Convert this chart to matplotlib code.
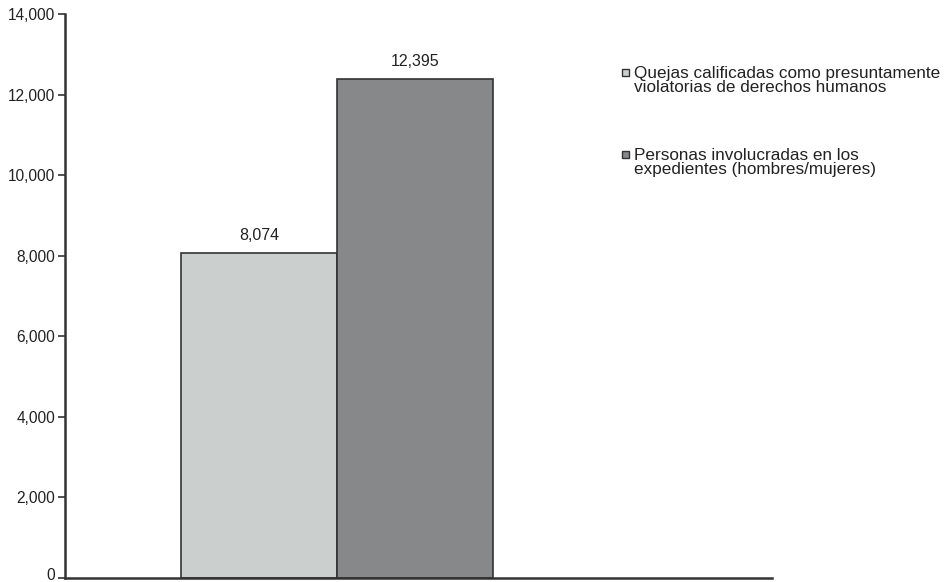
import numpy as np
import matplotlib.pyplot as plt
import matplotlib.transforms as mtransforms
from matplotlib.patches import Rectangle
from matplotlib.ticker import FuncFormatter

# datos
series = ['Quejas calificadas como presuntamente\nviolatorias de derechos humanos',
          'Personas involucradas en los\nexpedientes (hombres/mujeres)']
valores = [8074, 12395]
colores = ['#cbcfce', '#878889']

plt.rcParams['font.family'] = ['Liberation Sans', 'DejaVu Sans']

W, H = 946, 582
fig = plt.figure(figsize=(W / 100, H / 100), dpi=100)
ax = fig.add_axes([0.0687, 0.0069, 0.7473, 0.9691])

x = np.arange(len(valores))
barras = ax.bar(x, valores, width=1.0, color=colores, edgecolor='#333333',
                linewidth=1.2)
for b, v in zip(barras, valores):
    ax.text(b.get_x() + b.get_width() / 2, v + 250, f'{v:,}', ha='center',
            va='bottom', fontsize=11.5, color='#222222')

ax.set_xlim(-1.244, 3.29)
ax.set_ylim(0, 14000)
ax.set_yticks(np.arange(0, 14001, 2000))
ax.yaxis.set_major_formatter(FuncFormatter(lambda v, p: f'{int(v):,}'))
ax.set_xticks([])
ax.tick_params(axis='y', direction='out', length=5, width=1.2, color='#333333',
               labelsize=11.2, labelcolor='#222222', pad=2)
for s in ['top', 'right']:
    ax.spines[s].set_visible(False)
for s in ['left', 'bottom']:
    ax.spines[s].set_color('#333333')
    ax.spines[s].set_linewidth(1.8)

# subir un poco la etiqueta "0" para que no quede cortada
fig.canvas.draw()
lab0 = ax.get_yticklabels()[0]
lab0.set_transform(lab0.get_transform() +
                   mtransforms.ScaledTranslation(0, 4 / 100, fig.dpi_scale_trans))

# leyenda hecha a mano (cuadro alineado con la primera línea)
for i, (lab, col) in enumerate(zip(series, colores)):
    y0 = 66 + i * 82
    fig.patches.append(Rectangle((622 / W, 1 - (y0 + 10) / H), 7 / W, 7 / H,
                                 transform=fig.transFigure, facecolor=col,
                                 edgecolor='#333333', linewidth=1.0))
    fig.text(634 / W, 1 - y0 / H, lab, ha='left', va='top', fontsize=12.3,
             color='#222222', linespacing=0.95)

fig.savefig('out.png', dpi=100)
